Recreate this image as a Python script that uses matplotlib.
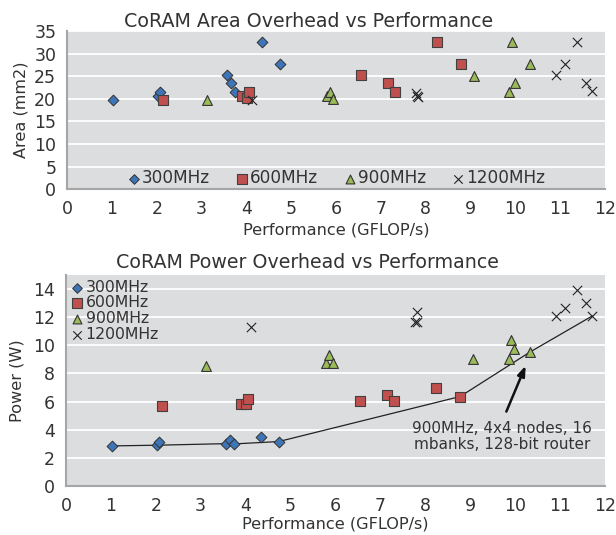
import matplotlib
matplotlib.use("Agg")
import matplotlib.pyplot as plt

# performance (GFLOP/s), area (mm2), power (W) per clock setting
perf_300 = [1.03, 2.03, 2.07, 3.56, 3.66, 3.74, 4.35, 4.74]
area_300 = [19.7, 20.6, 21.5, 25.3, 23.4, 21.6, 32.5, 27.7]
power_300 = [2.85, 2.9, 3.1, 3.01, 3.25, 2.99, 3.49, 3.16]

perf_600 = [2.13, 3.89, 4.02, 4.06, 6.55, 7.16, 7.31, 8.25, 8.78]
area_600 = [19.7, 20.6, 20.1, 21.5, 25.3, 23.4, 21.6, 32.5, 27.7]
power_600 = [5.67, 5.81, 5.81, 6.2, 6.05, 6.5, 6.05, 6.97, 6.36]

perf_900 = [3.12, 5.79, 5.87, 5.94, 9.07, 9.87, 9.92, 9.99, 10.33]
area_900 = [19.7, 20.6, 21.5, 20.0, 25.1, 21.6, 32.5, 23.4, 27.7]
power_900 = [8.5, 8.73, 9.3, 8.73, 9.04, 9.04, 10.4, 9.73, 9.51]

perf_1200 = [4.12, 7.78, 7.81, 7.83, 10.92, 11.12, 11.38, 11.59, 11.72]
area_1200 = [19.7, 21.3, 20.6, 20.3, 25.3, 27.8, 32.5, 23.5, 21.7]
power_1200 = [11.3, 11.65, 12.4, 11.65, 12.08, 12.67, 13.93, 13.0, 12.08]

# best power configurations connected by a line
front_perf = [1.03, 2.03, 3.56, 3.74, 4.74, 8.78, 10.33, 11.72]
front_power = [2.85, 2.9, 3.01, 2.99, 3.16, 6.36, 9.51, 12.08]

labels = ["300MHz", "600MHz", "900MHz", "1200MHz"]

BG = "#DCDDDF"
TXT = "#333333"

series = [
    (perf_300, area_300, power_300, dict(marker="D", s=30, color="#3E74B8", edgecolors="#333333", linewidths=0.7)),
    (perf_600, area_600, power_600, dict(marker="s", s=55, color="#C0504D", edgecolors="#404040", linewidths=0.8)),
    (perf_900, area_900, power_900, dict(marker="^", s=50, color="#9BBB59", edgecolors="#333333", linewidths=0.8)),
    (perf_1200, area_1200, power_1200, dict(marker="x", s=45, color="#222222", linewidths=0.8)),
]


def style_axes(ax):
    ax.set_facecolor(BG)
    for side in ["top", "right"]:
        ax.spines[side].set_visible(False)
    for side in ["left", "bottom"]:
        ax.spines[side].set_color("#A6A6A6")
        ax.spines[side].set_linewidth(1.5)
    ax.grid(axis="y", color="white", linewidth=1.3)
    ax.set_axisbelow(True)
    ax.tick_params(length=0, labelsize=12.5, colors=TXT, pad=8)
    ax.set_xlim(0, 12)
    ax.set_xticks(range(0, 13))


fig = plt.figure(figsize=(6.16, 5.35), dpi=100)
ax1 = fig.add_axes([0.1093, 0.6462, 0.8724, 0.2958])
ax2 = fig.add_axes([0.1071, 0.0916, 0.8745, 0.3944])

# area chart
style_axes(ax1)
for (px, ar, pw, kw), lab in zip(series, labels):
    ax1.scatter(px, ar, label=lab, zorder=3, **kw)
ax1.set_ylim(0, 35)
ax1.set_yticks(range(0, 36, 5))
ax1.set_title("CoRAM Area Overhead vs Performance", fontsize=13.7, color=TXT, x=0.448, pad=3)
ax1.set_xlabel("Performance (GFLOP/s)", fontsize=11.6, color=TXT, labelpad=3)
ax1.set_ylabel("Area (mm2)", fontsize=11.6, color=TXT, labelpad=4)
ax1.legend(loc="lower center", ncol=4, frameon=False, fontsize=12.2, handletextpad=0.1,
           handlelength=0.8, columnspacing=1.45, borderaxespad=0.0,
           bbox_to_anchor=(0.5, -0.03), labelcolor=TXT, markerscale=0.9)

# power chart
style_axes(ax2)
ax2.plot(front_perf, front_power, color="#222222", linewidth=0.9, zorder=2)
for (px, ar, pw, kw), lab in zip(series, labels):
    ax2.scatter(px, pw, label=lab, zorder=3, **kw)
ax2.set_ylim(0, 15)
ax2.set_yticks(range(0, 15, 2))
ax2.set_title("CoRAM Power Overhead vs Performance", fontsize=13.7, color=TXT, x=0.448, pad=5)
ax2.set_xlabel("Performance (GFLOP/s)", fontsize=11.6, color=TXT, labelpad=1)
ax2.set_ylabel("Power (W)", fontsize=11.6, color=TXT, labelpad=6)
ax2.legend(loc="upper left", frameon=False, fontsize=11.3, handletextpad=0.15,
           handlelength=0.8, labelspacing=0.05, borderaxespad=0.0, borderpad=0.3,
           labelcolor=TXT, markerscale=0.9)

ax2.text(9.71, 3.5, "900MHz, 4x4 nodes, 16\nmbanks, 128-bit router",
         ha="center", va="center", fontsize=11, color=TXT, linespacing=1.05)
ax2.annotate("", xy=(10.24, 8.55), xytext=(9.81, 5.29),
             arrowprops=dict(arrowstyle="-|>,head_length=0.6,head_width=0.22",
                             color="#111111", lw=1.8, shrinkA=0, shrinkB=0))

fig.savefig("out.png", dpi=100, facecolor="white")
